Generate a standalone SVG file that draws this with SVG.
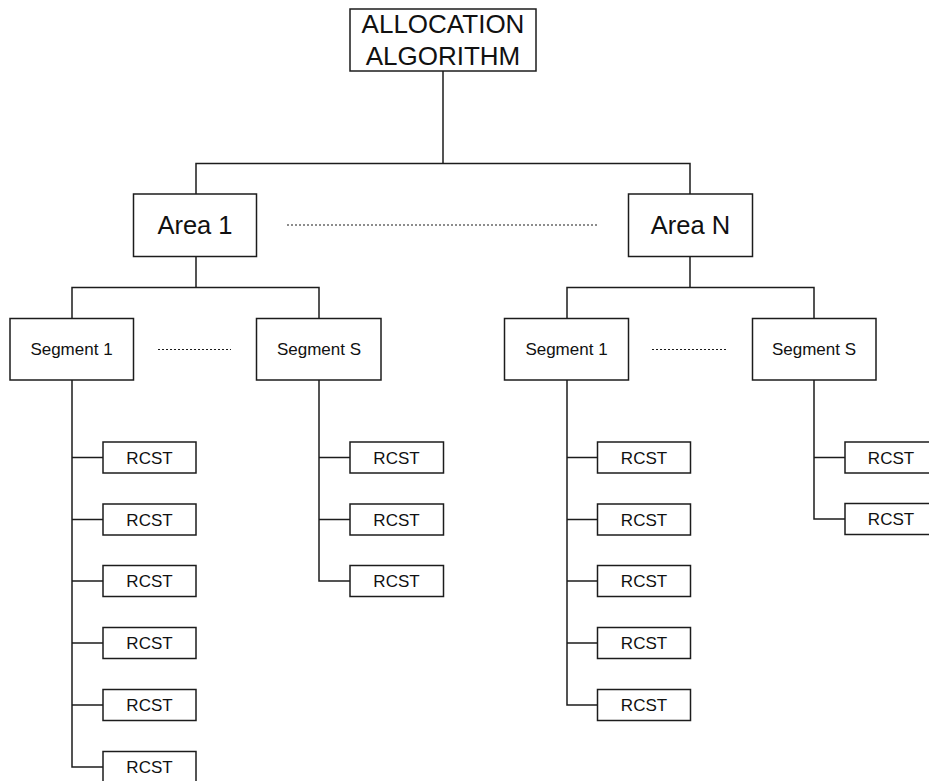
<svg xmlns="http://www.w3.org/2000/svg" width="929" height="781" viewBox="0 0 929 781">
  <style>
    rect.box { fill: #ffffff; stroke: #1c1c1c; stroke-width: 1.5; }
    .wire { fill: none; stroke: #1c1c1c; stroke-width: 1.5; }
    .dots { fill: none; stroke: #1c1c1c; stroke-width: 1.2; stroke-dasharray: 2 2; }
    text { font-family: "Liberation Sans", Arial, sans-serif; fill: #111111; text-anchor: middle; }
    .big { font-size: 25.5px; }
    .top { font-size: 26px; }
    .seg { font-size: 17px; }
    .rc { font-size: 17px; }
  </style>
  <rect width="929" height="781" fill="#ffffff"/>

  <!-- connectors -->
  <g id="connectors">
    <path class="wire" d="M443 71 V163.5 M196 194 V163.5 H690 V194"/>
    <path class="wire" d="M196 256 V287.5 M72 318.5 V287.5 H319 V318.5"/>
    <path class="wire" d="M690 256.5 V287.5 M567 318.5 V287.5 H814 V318.5"/>
    <!-- area 1, segment 1 -->
    <path class="wire" d="M72 380 V767 H103 M72 457.5 H103 M72 519.5 H103 M72 581 H103 M72 643 H103 M72 705 H103"/>
    <!-- area 1, segment S -->
    <path class="wire" d="M319 380 V581 H350 M319 457.5 H350 M319 519.5 H350"/>
    <!-- area N, segment 1 -->
    <path class="wire" d="M567 380 V705 H597.5 M567 457.5 H597.5 M567 519.5 H597.5 M567 581 H597.5 M567 643 H597.5"/>
    <!-- area N, segment S -->
    <path class="wire" d="M814 380 V519 H845 M814 457.5 H845"/>
    <!-- ellipsis lines -->
    <path class="dots" d="M287 225 H597"/>
    <path class="dots" d="M158 349.5 H231"/>
    <path class="dots" d="M652 349.5 H726"/>
  </g>

  <g id="allocation">
    <rect class="box" x="350" y="9" width="186" height="62"/>
    <text class="top" x="443" y="33">ALLOCATION</text>
    <text class="top" x="443" y="65">ALGORITHM</text>
  </g>

  <g id="area-1">
    <rect class="box" x="133.5" y="194" width="123" height="62.5"/>
    <text class="big" x="195" y="233.5">Area 1</text>
  </g>
  <g id="area-n">
    <rect class="box" x="628.5" y="194" width="124" height="62.5"/>
    <text class="big" x="690.5" y="233.5">Area N</text>
  </g>

  <g id="a1-segment-1">
    <rect class="box" x="10" y="318.5" width="123.5" height="61.5"/>
    <text class="seg" x="71.5" y="355">Segment 1</text>
  </g>
  <g id="a1-segment-s">
    <rect class="box" x="256.5" y="318.5" width="124.5" height="61.5"/>
    <text class="seg" x="319" y="355">Segment S</text>
  </g>
  <g id="an-segment-1">
    <rect class="box" x="504.5" y="318.5" width="124" height="61.5"/>
    <text class="seg" x="566.5" y="355">Segment 1</text>
  </g>
  <g id="an-segment-s">
    <rect class="box" x="752.5" y="318.5" width="123.5" height="61.5"/>
    <text class="seg" x="814" y="355">Segment S</text>
  </g>

  <!-- terminals under area 1, segment 1 -->
  <g id="a1-s1-rcst-1"><rect class="box" x="103" y="442" width="93" height="31"/><text class="rc" x="149.5" y="463.5">RCST</text></g>
  <g id="a1-s1-rcst-2"><rect class="box" x="103" y="504" width="93" height="31"/><text class="rc" x="149.5" y="525.5">RCST</text></g>
  <g id="a1-s1-rcst-3"><rect class="box" x="103" y="565.5" width="93" height="31"/><text class="rc" x="149.5" y="587">RCST</text></g>
  <g id="a1-s1-rcst-4"><rect class="box" x="103" y="627.5" width="93" height="31"/><text class="rc" x="149.5" y="649">RCST</text></g>
  <g id="a1-s1-rcst-5"><rect class="box" x="103" y="689.5" width="93" height="31"/><text class="rc" x="149.5" y="711">RCST</text></g>
  <g id="a1-s1-rcst-6"><rect class="box" x="103" y="751.5" width="93" height="31"/><text class="rc" x="149.5" y="773">RCST</text></g>

  <!-- terminals under area 1, segment S -->
  <g id="a1-ss-rcst-1"><rect class="box" x="350" y="442" width="93.5" height="31"/><text class="rc" x="396.5" y="463.5">RCST</text></g>
  <g id="a1-ss-rcst-2"><rect class="box" x="350" y="504" width="93.5" height="31"/><text class="rc" x="396.5" y="525.5">RCST</text></g>
  <g id="a1-ss-rcst-3"><rect class="box" x="350" y="565.5" width="93.5" height="31"/><text class="rc" x="396.5" y="587">RCST</text></g>

  <!-- terminals under area N, segment 1 -->
  <g id="an-s1-rcst-1"><rect class="box" x="597.5" y="442" width="93" height="31"/><text class="rc" x="644" y="463.5">RCST</text></g>
  <g id="an-s1-rcst-2"><rect class="box" x="597.5" y="504" width="93" height="31"/><text class="rc" x="644" y="525.5">RCST</text></g>
  <g id="an-s1-rcst-3"><rect class="box" x="597.5" y="565.5" width="93" height="31"/><text class="rc" x="644" y="587">RCST</text></g>
  <g id="an-s1-rcst-4"><rect class="box" x="597.5" y="627.5" width="93" height="31"/><text class="rc" x="644" y="649">RCST</text></g>
  <g id="an-s1-rcst-5"><rect class="box" x="597.5" y="689.5" width="93" height="31"/><text class="rc" x="644" y="711">RCST</text></g>

  <!-- terminals under area N, segment S -->
  <g id="an-ss-rcst-1"><rect class="box" x="845" y="442" width="93" height="31"/><text class="rc" x="891" y="463.5">RCST</text></g>
  <g id="an-ss-rcst-2"><rect class="box" x="845" y="503.5" width="93" height="31"/><text class="rc" x="891" y="525">RCST</text></g>
</svg>
